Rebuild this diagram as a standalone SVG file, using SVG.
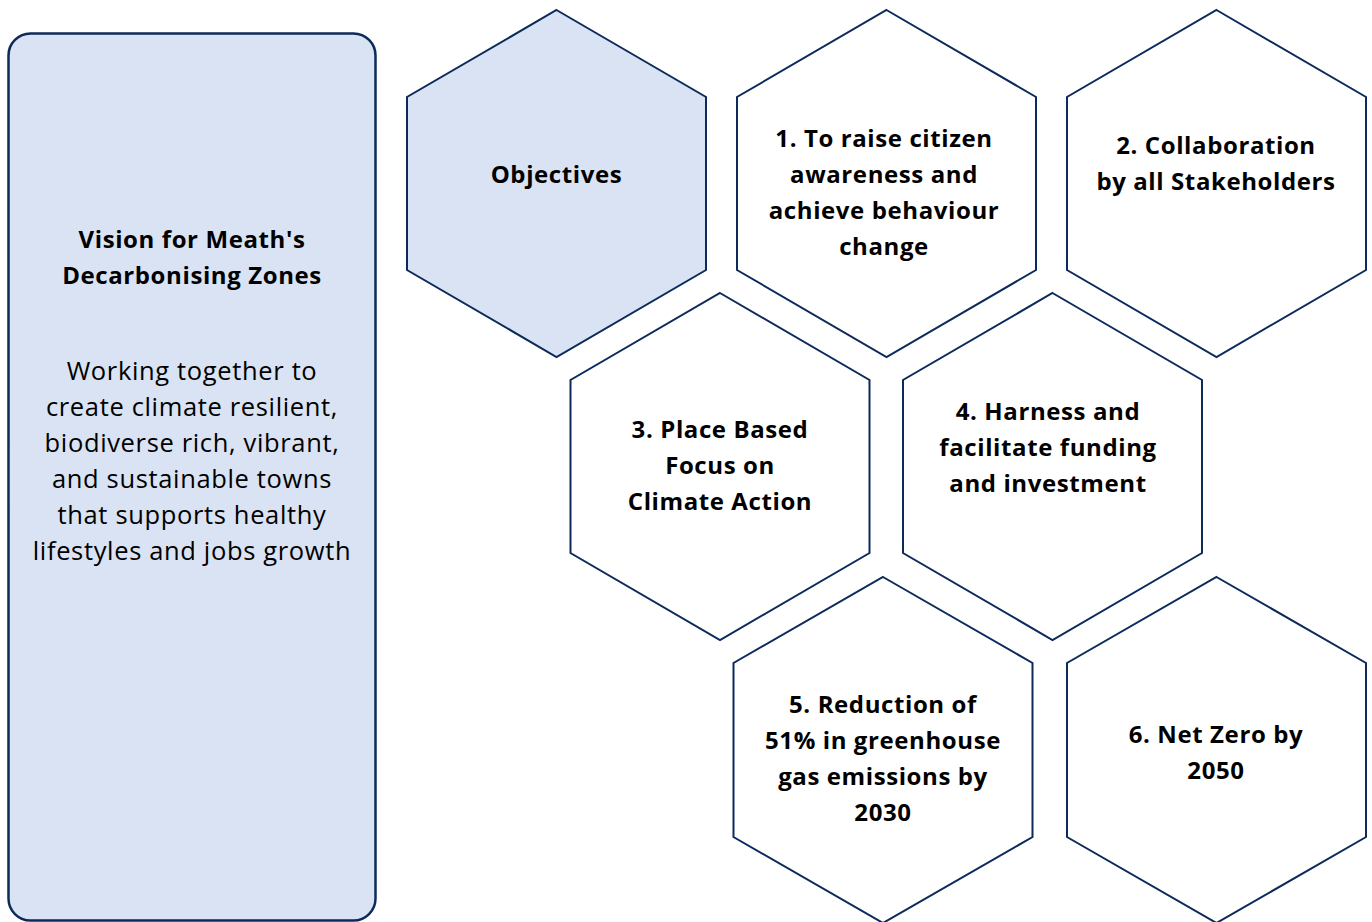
<svg xmlns="http://www.w3.org/2000/svg" width="1372" height="922" viewBox="0 0 1372 922">
<style>
.hex{fill:#ffffff;stroke:#0c2b5b;stroke-width:2}
.hexf{fill:#dae3f3;stroke:#0c2b5b;stroke-width:2}
.box{fill:#dae3f3;stroke:#0c2b5b;stroke-width:2.5}
.t{font-family:"Open Sans","Noto Sans",sans-serif;font-size:25.5px;fill:#000;text-anchor:middle;letter-spacing:0.65px}
.b{font-size:24px;font-weight:bold;letter-spacing:0.6px}
</style>
<rect width="1372" height="922" fill="#ffffff"/>
<g id="vision">
<rect class="box" x="8.5" y="33.5" width="367" height="887" rx="22"/>
<text class="t b" x="192" y="248">Vision for Meath's</text>
<text class="t b" x="192" y="284">Decarbonising Zones</text>
<text class="t" x="192" y="380">Working together to</text>
<text class="t" x="192" y="416">create climate resilient,</text>
<text class="t" x="192" y="452">biodiverse rich, vibrant,</text>
<text class="t" x="192" y="488">and sustainable towns</text>
<text class="t" x="192" y="524">that supports healthy</text>
<text class="t" x="192" y="560">lifestyles and jobs growth</text>
</g>
<g id="objectives">
<path class="hexf" d="M556.5 10 L706 97 L706 270 L556.5 357 L407 270 L407 97 Z"/>
<text class="t b" x="556.5" y="183">Objectives</text>
</g>
<g id="obj1">
<path class="hex" d="M886.5 10 L1036 97 L1036 270 L886.5 357 L737 270 L737 97 Z"/>
<text class="t b" x="884" y="147">1. To raise citizen</text>
<text class="t b" x="884" y="183">awareness and</text>
<text class="t b" x="884" y="219">achieve behaviour</text>
<text class="t b" x="884" y="255">change</text>
</g>
<g id="obj2">
<path class="hex" d="M1216.5 10 L1366 97 L1366 270 L1216.5 357 L1067 270 L1067 97 Z"/>
<text class="t b" x="1216" y="154">2. Collaboration</text>
<text class="t b" x="1216" y="190">by all Stakeholders</text>
</g>
<g id="obj3">
<path class="hex" d="M720 293 L869.5 380 L869.5 553 L720 640 L570.5 553 L570.5 380 Z"/>
<text class="t b" x="720" y="438">3. Place Based</text>
<text class="t b" x="720" y="474">Focus on</text>
<text class="t b" x="720" y="510">Climate Action</text>
</g>
<g id="obj4">
<path class="hex" d="M1052.5 293 L1202 380 L1202 553 L1052.5 640 L903 553 L903 380 Z"/>
<text class="t b" x="1048" y="420">4. Harness and</text>
<text class="t b" x="1048" y="456">facilitate funding</text>
<text class="t b" x="1048" y="492">and investment</text>
</g>
<g id="obj5">
<path class="hex" d="M883 577 L1032.5 663 L1032.5 837 L883 923 L733.5 837 L733.5 663 Z"/>
<text class="t b" x="883" y="713">5. Reduction of</text>
<text class="t b" x="883" y="749">51% in greenhouse</text>
<text class="t b" x="883" y="785">gas emissions by</text>
<text class="t b" x="883" y="821">2030</text>
</g>
<g id="obj6">
<path class="hex" d="M1216.5 577 L1366 663 L1366 837 L1216.5 923 L1067 837 L1067 663 Z"/>
<text class="t b" x="1216" y="743">6. Net Zero by</text>
<text class="t b" x="1216" y="779">2050</text>
</g>
<g id="connectors"></g>
</svg>
